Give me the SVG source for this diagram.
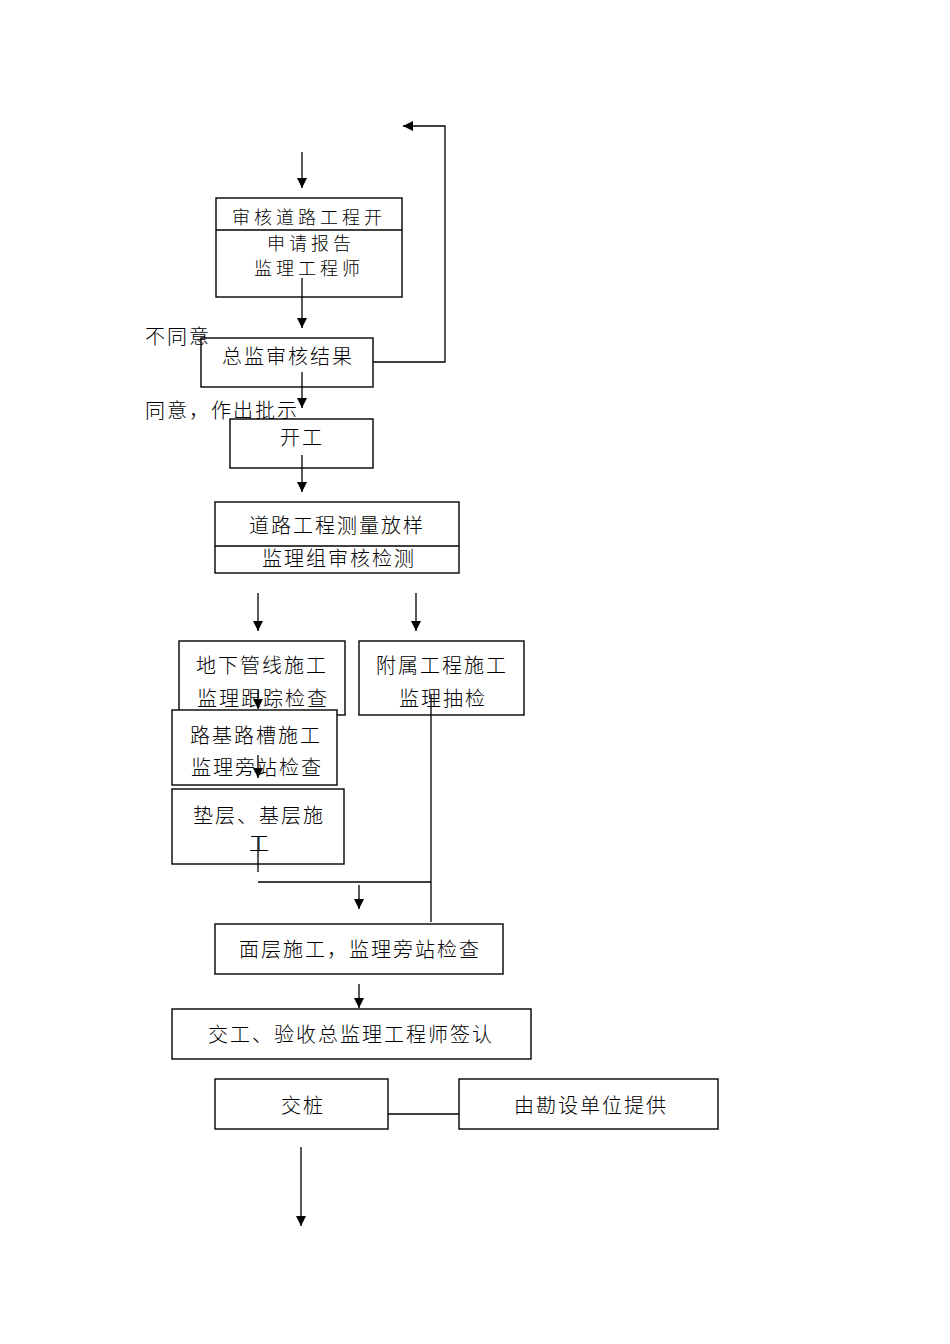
<svg xmlns="http://www.w3.org/2000/svg" width="950" height="1344" viewBox="0 0 950 1344">
<style>
.box{fill:#fff;stroke:#000;stroke-width:1.4}
.ln{fill:none;stroke:#000;stroke-width:1.3}
.ar{fill:none;stroke:#000;stroke-width:1.3;marker-end:url(#ah)}
text{font-family:"Noto Sans CJK SC","Noto Sans CJK JP",sans-serif;font-size:20px;letter-spacing:2px;dominant-baseline:central;fill:#000;font-weight:300}
.sm{font-size:18px;letter-spacing:4px}
</style>
<defs>
<marker id="ah" markerWidth="10" markerHeight="12" refX="10" refY="6" orient="auto" markerUnits="userSpaceOnUse">
<path d="M0,1 L10,6 L0,11 Z" fill="#000"/>
</marker>
</defs>
<rect width="950" height="1344" fill="#fff"/>
<g id="n1"><rect class="box" x="216" y="198" width="186" height="99"/><line class="ln" x1="216" y1="230" x2="402" y2="230"/><text class="sm" x="232" y="216">审核道路工程开</text><text class="sm" x="267" y="242">申请报告</text><text class="sm" x="254" y="267">监理工程师</text></g>
<g id="n2"><rect class="box" x="201" y="338" width="172" height="49"/><text x="222" y="355">总监审核结果</text></g>
<g id="l1"><text x="145" y="335">不同意</text></g>
<g id="l2"><text x="145" y="409">同意，作出批示</text></g>
<g id="n3"><rect class="box" x="230" y="419" width="143" height="49"/><text x="280" y="436">开工</text></g>
<g id="n4"><rect class="box" x="215" y="502" width="244" height="71"/><line class="ln" x1="215" y1="546" x2="459" y2="546"/><text x="249" y="524">道路工程测量放样</text><text x="262" y="557">监理组审核检测</text></g>
<g id="n5"><rect class="box" x="179" y="641" width="166" height="74"/><text x="196" y="664">地下管线施工</text><text x="197" y="697">监理跟踪检查</text></g>
<g id="n6"><rect class="box" x="359" y="641" width="165" height="74"/><text x="376" y="664">附属工程施工</text><text x="399" y="697">监理抽检</text></g>
<g id="n7"><rect class="box" x="172" y="710" width="165" height="75"/><text x="190" y="734">路基路槽施工</text><text x="191" y="766">监理旁站检查</text></g>
<g id="n8"><rect class="box" x="172" y="789" width="172" height="75"/><text x="193" y="814">垫层、基层施</text><text x="249" y="842">工</text></g>
<g id="n9"><rect class="box" x="215" y="924" width="288" height="50"/><text x="239" y="948">面层施工，监理旁站检查</text></g>
<g id="n10"><rect class="box" x="172" y="1009" width="359" height="50"/><text x="208" y="1033">交工、验收总监理工程师签认</text></g>
<g id="n11"><rect class="box" x="215" y="1079" width="173" height="50"/><text x="281" y="1104">交桩</text></g>
<g id="n12"><rect class="box" x="459" y="1079" width="259" height="50"/><text x="514" y="1104">由勘设单位提供</text></g>
<g id="connectors">
<path class="ar" d="M373,362 H445 V126 H403"/>
<line class="ar" x1="302" y1="152" x2="302" y2="188"/>
<line class="ar" x1="302" y1="278" x2="302" y2="328"/>
<line class="ar" x1="302" y1="372" x2="302" y2="408"/>
<line class="ar" x1="302" y1="455" x2="302" y2="492"/>
<line class="ar" x1="258" y1="593" x2="258" y2="631"/>
<line class="ar" x1="416" y1="593" x2="416" y2="631"/>
<line class="ar" x1="258" y1="690" x2="258" y2="709"/>
<line class="ar" x1="258" y1="755" x2="258" y2="778"/>
<path class="ln" d="M258,837 V872"/>
<path class="ln" d="M258,882 H431"/>
<path class="ln" d="M431,695 V922"/>
<line class="ar" x1="359" y1="885" x2="359" y2="909"/>
<line class="ar" x1="359" y1="984" x2="359" y2="1008"/>
<line class="ln" x1="388" y1="1114" x2="459" y2="1114"/>
<line class="ar" x1="301" y1="1147" x2="301" y2="1226"/>
</g>
</svg>
